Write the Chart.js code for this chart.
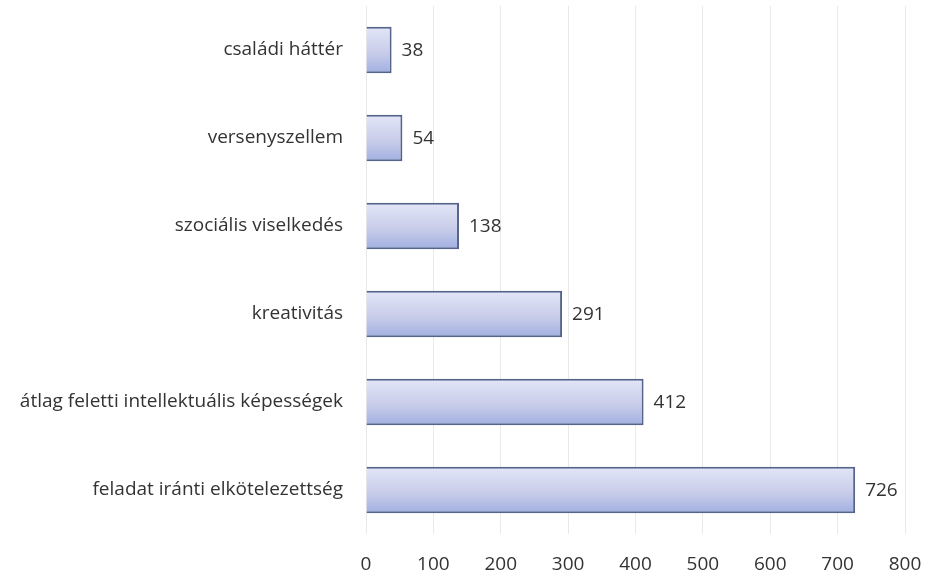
<!DOCTYPE html>
<html>
<head>
<meta charset="utf-8">
<script src="https://cdn.jsdelivr.net/npm/chart.js@4/dist/chart.umd.min.js"></script>
<style>
    html, body { margin: 0; padding: 0; background: #ffffff; }
    #grafico { display: block; }
</style>
</head>
<body>
<canvas id="grafico" width="930" height="578"></canvas>
<script>
// kategóriák felülről lefelé, és a hozzájuk tartozó értékek
const kategoriak = [
    'családi háttér',
    'versenyszellem',
    'szociális viselkedés',
    'kreativitás',
    'átlag feletti intellektuális képességek',
    'feladat iránti elkötelezettség'
];
const ertekek = [38, 54, 138, 291, 412, 726];
const tengelyMin = 0;
const tengelyMax = 800;
const tengelyLepes = 100;

const betu = '"Open Sans", "Lato", sans-serif';
const betuMeret = 19;

// a sávok függőleges színátmenete
function savSzin(context) {
    const chart = context.chart;
    if (!chart.chartArea || !chart.scales.y) {
        return '#c6cdea';
    }
    const y = chart.scales.y.getPixelForValue(context.dataIndex);
    const g = chart.ctx.createLinearGradient(0, y - 24, 0, y + 24);
    g.addColorStop(0, '#e3e7f7');
    g.addColorStop(0.55, '#c9cde9');
    g.addColorStop(1, '#9eafe2');
    return g;
}

// értékek kiírása a sávok végére
const ertekFelirat = {
    id: 'ertekFelirat',
    afterDatasetsDraw(chart) {
        const ctx = chart.ctx;
        const meta = chart.getDatasetMeta(0);
        ctx.save();
        ctx.font = betuMeret + 'px ' + betu;
        ctx.fillStyle = '#333333';
        ctx.textAlign = 'left';
        ctx.textBaseline = 'middle';
        meta.data.forEach(function (bar, i) {
            ctx.fillText(String(ertekek[i]), bar.x + 10, bar.y + 1);
        });
        ctx.restore();
    }
};

document.addEventListener('DOMContentLoaded', function () {
    const ctx = document.getElementById('grafico').getContext('2d');
    new Chart(ctx, {
        type: 'bar',
        data: {
            labels: kategoriak,
            datasets: [{
                data: ertekek,
                backgroundColor: savSzin,
                borderColor: '#56648c',
                borderWidth: 2,
                barPercentage: 0.53,
                categoryPercentage: 1
            }]
        },
        options: {
            indexAxis: 'y',
            responsive: false,
            animation: false,
            layout: {
                padding: { top: 6, right: 25, bottom: 4, left: 0 }
            },
            scales: {
                x: {
                    min: tengelyMin,
                    max: tengelyMax,
                    afterFit(scale) {
                        scale.height = 40;
                        scale.paddingLeft = 0;
                        scale.paddingRight = 0;
                    },
                    ticks: {
                        stepSize: tengelyLepes,
                        padding: 19,
                        color: '#333333',
                        font: { family: betu, size: betuMeret }
                    },
                    grid: {
                        color: '#e9e9e9',
                        drawTicks: false
                    },
                    border: { display: false }
                },
                y: {
                    afterFit(scale) {
                        scale.width = 366;
                        scale.paddingTop = 0;
                        scale.paddingBottom = 0;
                    },
                    ticks: {
                        padding: 15,
                        color: '#333333',
                        font: { family: betu, size: betuMeret }
                    },
                    grid: { display: false },
                    border: { display: false }
                }
            },
            plugins: {
                legend: { display: false },
                tooltip: { enabled: false },
                title: { display: false }
            }
        },
        plugins: [ertekFelirat]
    });
});
</script>
</body>
</html>
